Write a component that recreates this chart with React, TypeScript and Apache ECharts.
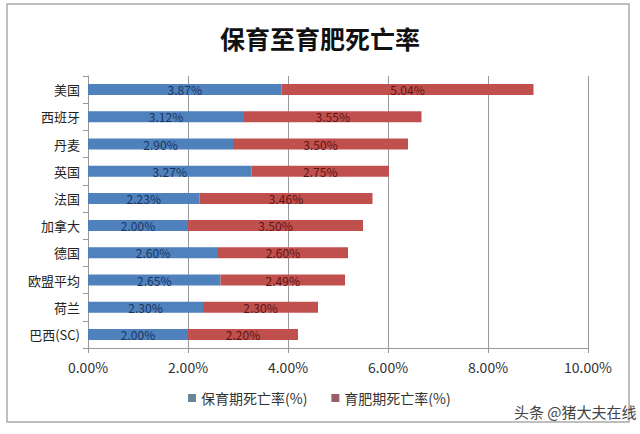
import React, { useEffect, useRef } from "react";
import * as echarts from "echarts";

const categories = ["美国", "西班牙", "丹麦", "英国", "法国", "加拿大", "德国", "欧盟平均", "荷兰", "巴西(SC)"];
const nurseryRates = [3.87, 3.12, 2.9, 3.27, 2.23, 2.0, 2.6, 2.65, 2.3, 2.0];
const finishingRates = [5.04, 3.55, 3.5, 2.75, 3.46, 3.5, 2.6, 2.49, 2.3, 2.2];
const seriesNames = ["保育期死亡率(%)", "育肥期死亡率(%)"];
const titleText = "保育至育肥死亡率";
const watermark = "头条 @猪大夫在线";

const FONT = '"Noto Sans CJK SC", "Noto Sans", sans-serif';

export default function App() {
  const ref = useRef<HTMLDivElement>(null);
  useEffect(() => {
    if (!ref.current) return;
    const chart = echarts.init(ref.current, undefined, { renderer: "svg" });
    chart.setOption({
      animation: false,
      backgroundColor: "#ffffff",
      textStyle: { fontFamily: FONT },
      title: {
        text: titleText,
        left: "center",
        top: 20,
        textStyle: { fontSize: 25, fontWeight: "bold", color: "#111", fontFamily: FONT },
      },
      legend: {
        data: [
          { name: seriesNames[0], itemStyle: { color: "#6b8596" } },
          { name: seriesNames[1], itemStyle: { color: "#9c5f68" } },
        ],
        bottom: 24,
        left: 183,
        icon: "rect",
        itemWidth: 8,
        itemHeight: 8,
        itemGap: 24,
        textStyle: { fontSize: 14, color: "#333", fontFamily: FONT },
      },
      grid: { left: 88, right: 52, top: 76, height: 272, containLabel: false },
      xAxis: {
        type: "value",
        min: 0,
        max: 10,
        interval: 2,
        axisLine: { show: true, lineStyle: { color: "#999", width: 1 } },
        axisTick: { show: true, length: 5, lineStyle: { color: "#999" } },
        splitLine: { show: true, lineStyle: { color: "#999", width: 1 } },
        axisLabel: {
          margin: 12,
          fontSize: 14,
          color: "#333",
          fontFamily: FONT,
          formatter: (v: number) => v.toFixed(2) + "%",
        },
      },
      yAxis: {
        type: "category",
        data: categories,
        inverse: true,
        axisLine: { show: true, lineStyle: { color: "#999" } },
        axisTick: { show: true, length: 5, lineStyle: { color: "#999" } },
        axisLabel: { margin: 8, fontSize: 13, color: "#222", fontFamily: FONT },
      },
      series: [
        {
          name: seriesNames[0],
          type: "bar",
          stack: "total",
          barWidth: 11,
          data: nurseryRates,
          itemStyle: { color: "#4f81bd" },
          label: {
            show: true,
            position: "inside",
            fontSize: 12,
            color: "#1a3560",
            fontFamily: FONT,
            formatter: (p: any) => Number(p.value).toFixed(2) + "%",
          },
        },
        {
          name: seriesNames[1],
          type: "bar",
          stack: "total",
          barWidth: 11,
          data: finishingRates,
          itemStyle: { color: "#c0504d" },
          label: {
            show: true,
            position: "inside",
            fontSize: 12,
            color: "#5e1414",
            fontFamily: FONT,
            formatter: (p: any) => Number(p.value).toFixed(2) + "%",
          },
        },
      ],
      graphic: [
        {
          type: "rect",
          shape: { x: 7, y: 4, width: 622, height: 418 },
          style: { fill: "none", stroke: "#aaa", lineWidth: 1.5 },
          silent: true,
        },
        {
          type: "text",
          x: 514,
          y: 404,
          style: { text: watermark, fontSize: 15, fill: "#444", fontFamily: FONT },
          silent: true,
        },
      ],
    });
    return () => chart.dispose();
  }, []);
  return <div ref={ref} style={{ position: "fixed", left: 0, top: 0, width: 640, height: 434 }} />;
}
